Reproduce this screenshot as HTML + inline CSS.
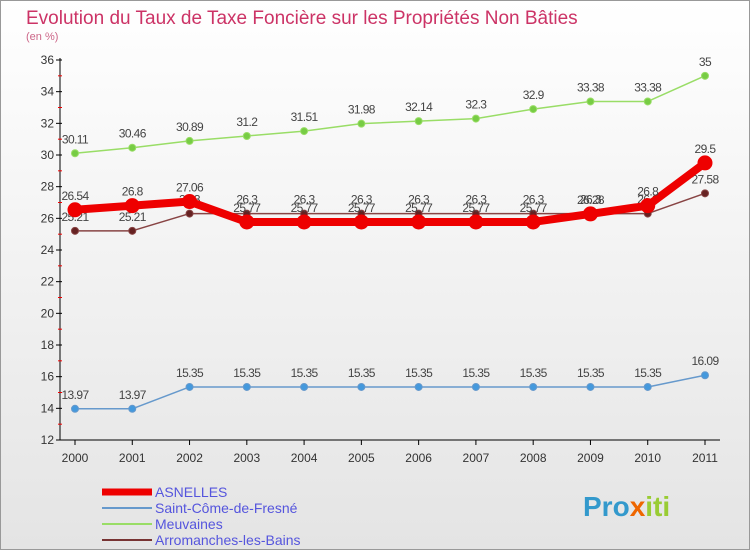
<!DOCTYPE html>
<html><head><meta charset="utf-8"><style>
body{margin:0;background:#fff}
svg{display:block;font-family:"Liberation Sans",sans-serif}
</style></head><body>
<svg width="750" height="550" viewBox="0 0 750 550">
<defs><linearGradient id="bg" x1="0" y1="0" x2="0" y2="1"><stop offset="0" stop-color="#ffffff"/><stop offset="1" stop-color="#e4e4e4"/></linearGradient></defs>
<rect width="750" height="550" fill="url(#bg)"/>
<rect x="0.5" y="0.5" width="749" height="549" fill="none" stroke="#999"/>
<text x="26" y="24" font-size="19" fill="#cc3366">Evolution du Taux de Taxe Foncière sur les Propriétés Non Bâties</text>
<text x="26" y="40" font-size="11" fill="#cc6688">(en %)</text>
<g id="axes"></g><g id="series"></g>
<g font-size="14">
<line x1="102" y1="492" x2="152" y2="492" stroke="#ee0000" stroke-width="7"/>
<text x="155" y="497" fill="#5555dd">ASNELLES</text>
<line x1="102" y1="508" x2="152" y2="508" stroke="#6699cc" stroke-width="2"/>
<text x="155" y="513" fill="#5555dd">Saint-Côme-de-Fresné</text>
<line x1="102" y1="524" x2="152" y2="524" stroke="#99dd66" stroke-width="2"/>
<text x="155" y="529" fill="#5555dd">Meuvaines</text>
<line x1="102" y1="540" x2="152" y2="540" stroke="#773333" stroke-width="2"/>
<text x="155" y="545" fill="#5555dd">Arromanches-les-Bains</text>
</g>
<text x="583" y="516" font-size="28" font-weight="bold" fill="#3399cc">Pro<tspan fill="#ee6600">x</tspan><tspan fill="#99cc33">iti</tspan></text>
</svg>
<script>
const years=[2000,2001,2002,2003,2004,2005,2006,2007,2008,2009,2010,2011];
const yTicks=[12,14,16,18,20,22,24,26,28,30,32,34,36];
const asnelles=[26.54,26.8,27.06,25.77,25.77,25.77,25.77,25.77,25.77,26.28,26.8,29.5];
const saintCome=[13.97,13.97,15.35,15.35,15.35,15.35,15.35,15.35,15.35,15.35,15.35,16.09];
const meuvaines=[30.11,30.46,30.89,31.2,31.51,31.98,32.14,32.3,32.9,33.38,33.38,35];
const arromanches=[25.21,25.21,26.3,26.3,26.3,26.3,26.3,26.3,26.3,26.3,26.3,27.58];
const NS="http://www.w3.org/2000/svg";
const X=i=>75+i*(630/11);
const Y=v=>440-(v-12)*(380/24);
function mk(t,a,p){const e=document.createElementNS(NS,t);for(const k in a)e.setAttribute(k,a[k]);p.appendChild(e);return e;}
const ax=document.getElementById('axes');
const yl=mk('line',{x1:60,y1:58,x2:60,y2:440,stroke:'#000'},ax);


const xl=mk('line',{x1:60,y1:440,x2:720,y2:440,stroke:'#000'},ax);


yTicks.forEach(v=>{
 mk('line',{x1:56,y1:Y(v),x2:62,y2:Y(v),stroke:'#000'},ax);
 if(v<36)mk('line',{x1:58,y1:Y(v+1),x2:62,y2:Y(v+1),stroke:'#e00'},ax);
 const t=mk('text',{x:54,y:Y(v)+4,'text-anchor':'end','font-size':12,fill:'#333'},ax);t.textContent=v;
 
 
});
years.forEach((y,i)=>{
 mk('line',{x1:X(i),y1:440,x2:X(i),y2:445,stroke:'#000'},ax);
 const t=mk('text',{x:X(i),y:462,'text-anchor':'middle','font-size':12,fill:'#333'},ax);t.textContent=y;
 
 
});
const sg=document.getElementById('series');
function draw(d,color,w,r,name,fill){
 const g=mk('g',{},sg);
 
 
 mk('polyline',{points:d.map((v,i)=>X(i)+','+Y(v)).join(' '),fill:'none',stroke:color,'stroke-width':w,'stroke-linejoin':'round'},g);
 d.forEach((v,i)=>{
  const c=mk('circle',{cx:X(i),cy:Y(v),r:r,fill:fill,stroke:color,'stroke-width':1},g);
  
  
  const t=mk('text',{x:X(i),y:Y(v)-10,'text-anchor':'middle','font-size':12,fill:'#444','letter-spacing':'-0.6'},g);t.textContent=v;
  
  
 });
}
draw(saintCome,'#6699cc',1.5,3.5,'saint-come-series','#4499dd');
draw(meuvaines,'#99dd66',1.5,3.5,'meuvaines-series','#77cc44');
draw(arromanches,'#884444',1.5,3.5,'arromanches-series','#662222');
draw(asnelles,'#ee0000',8,7,'asnelles-series','#ee0000');
</script>
</body></html>
